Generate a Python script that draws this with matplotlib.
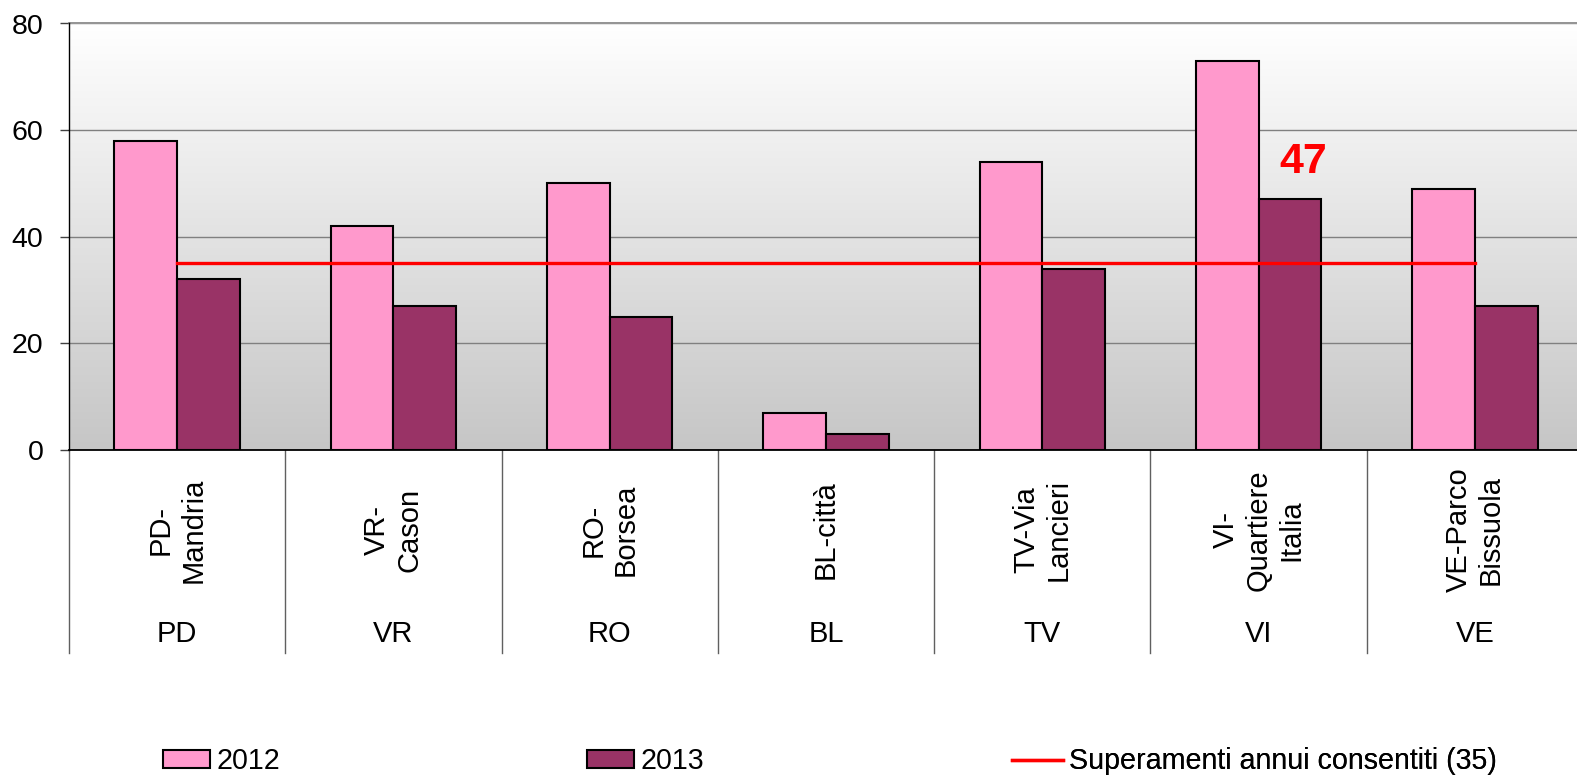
import matplotlib
matplotlib.use('Agg')
import matplotlib.pyplot as plt
import numpy as np
from matplotlib.colors import LinearSegmentedColormap
from matplotlib.patches import Patch
from matplotlib.lines import Line2D
import matplotlib.transforms as mtransforms

plt.rcParams['font.family'] = ['Liberation Sans', 'DejaVu Sans']

# ---- data ----
stations = ["PD-\nMandria", "VR-\nCason", "RO-\nBorsea", "BL-città",
            "TV-Via\nLancieri", "VI-\nQuartiere\nItalia", "VE-Parco\nBissuola"]
provinces = ["PD", "VR", "RO", "BL", "TV", "VI", "VE"]
v2012 = [58, 42, 50, 7, 54, 73, 49]
v2013 = [32, 27, 25, 3, 34, 47, 27]
limit = 35
series_names = ["2012", "2013"]
limit_label = "Superamenti annui consentiti (35)"
highlight_idx = 5
yticks = [0, 20, 40, 60, 80]

# ---- layout ----
W, H = 1577, 775
fig = plt.figure(figsize=(W / 100, H / 100), dpi=100)
x0, x1 = 69, 1583
ytop, y0 = 23.5, 450
ax = fig.add_axes([x0 / W, (H - y0) / H, (x1 - x0) / W, (y0 - ytop) / H])

c2012 = '#ff99cc'
c2013 = '#993366'

# gradient background
cmap = LinearSegmentedColormap.from_list('bg', ['#ffffff', '#c6c6c6'])
ax.imshow(np.linspace(0, 1, 256).reshape(-1, 1), extent=[-0.5, 6.5, 0, 80],
          aspect='auto', cmap=cmap, zorder=0, interpolation='bilinear')

x = np.arange(len(stations))
w = 0.29
ax.bar(x - w / 2, v2012, w, color=c2012, edgecolor='black', linewidth=1.5, zorder=2)
ax.bar(x + w / 2, v2013, w, color=c2013, edgecolor='black', linewidth=1.5, zorder=2)
ax.plot([x[0], x[-1]], [limit, limit], color='#ff0000', lw=2.4, zorder=3)

ax.text(highlight_idx + 0.205, 54, str(v2013[highlight_idx]), color='#ff0000',
        fontsize=31, fontweight='bold', ha='center', va='center', zorder=4)

ax.set_xlim(-0.5, 6.5)
ax.set_ylim(0, 80)
ax.set_yticks(yticks)
ax.yaxis.grid(True, color='#808080', lw=1, zorder=0.5)
ax.axhline(yticks[-1], color='#808080', lw=1.2, zorder=0.6, clip_on=False)
ax.set_axisbelow(True)
ax.tick_params(axis='y', labelsize=20.5, length=6.5, width=1, pad=12, color='#404040')
ax.set_xticks([])
for s in ['top', 'right']:
    ax.spines[s].set_visible(False)
ax.spines['left'].set_color('black')
ax.spines['left'].set_linewidth(1)
ax.spines['bottom'].set_color('black')
ax.spines['bottom'].set_linewidth(1.3)
ax.spines['bottom'].set_zorder(5)

# category axis below
trans = mtransforms.blended_transform_factory(ax.transData, ax.transAxes)
ph = y0 - ytop
ybot = -(653 - y0) / ph
for b in np.arange(-0.5, len(stations) + 0.5, 1):
    ax.plot([b, b], [0, ybot], color='#606060', lw=1, transform=trans, clip_on=False)
for i, (st, pr) in enumerate(zip(stations, provinces)):
    ax.text(i, -(530 - y0) / ph, st, rotation=90, ha='center', va='center',
            multialignment='center', fontsize=21, transform=trans)
    ax.text(i, -(634 - y0) / ph, pr, ha='center', va='center', fontsize=21, transform=trans)

# legend
ly = (H - 761) / H
fs = 20.6
em = fs * 100 / 72
handles = [Patch(facecolor=c2012, edgecolor='black', lw=1.5),
           Patch(facecolor=c2013, edgecolor='black', lw=1.5),
           Line2D([0], [0], color='#ff0000', lw=2.4)]
labels = series_names + [limit_label]
xs = [163, 587, 1012]
hl = [47 / em, 47 / em, 51 / em]
for h, lab, xp, l in zip(handles, labels, xs, hl):
    leg = ax.legend([h], [lab], loc='center left', bbox_to_anchor=(xp / W, ly),
                    bbox_transform=fig.transFigure, frameon=False, fontsize=fs,
                    borderpad=0, borderaxespad=0, handlelength=l,
                    handleheight=16 / em, handletextpad=6 / em)
    ax.add_artist(leg)

fig.savefig('out.png', dpi=100)
